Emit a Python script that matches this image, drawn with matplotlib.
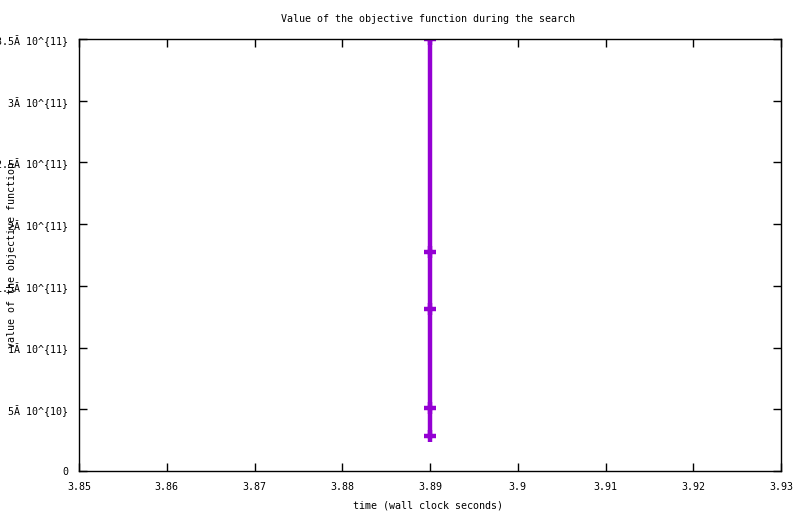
import matplotlib
matplotlib.use("Agg")
from matplotlib import pyplot as plt

# data
times = [3.89, 3.89, 3.89, 3.89, 3.89]
values = [3.5e11, 1.774e11, 1.3125e11, 0.51e11, 0.2836e11]

xticks = [3.85, 3.86, 3.87, 3.88, 3.89, 3.90, 3.91, 3.92, 3.93]
xticklabels = ["3.85", "3.86", "3.87", "3.88", "3.89", "3.9", "3.91", "3.92", "3.93"]
yticks = [0, 0.5e11, 1.0e11, 1.5e11, 2.0e11, 2.5e11, 3.0e11, 3.5e11]
yticklabels = ["0", "5Ă 10^{10}", "1Ă 10^{11}", "1.5Ă 10^{11}", "2Ă 10^{11}",
               "2.5Ă 10^{11}", "3Ă 10^{11}", "3.5Ă 10^{11}"]

plt.rcParams['font.family'] = ['DejaVu Sans Mono']
plt.rcParams['font.size'] = 7.2

fig = plt.figure(figsize=(8, 5.14), dpi=100)
ax = fig.add_axes([79/800, 43/514, 702/800, 432/514])

ax.plot(times, values, color='#9400D3', lw=3.2, marker='+', ms=9, mew=3.2,
        clip_on=True)

ax.set_xlim(3.85, 3.93)
ax.set_ylim(0, 3.5e11)
ax.set_xticks(xticks)
ax.set_xticklabels(xticklabels)
ax.set_yticks(yticks)
ax.set_yticklabels(yticklabels)
ax.tick_params(direction='in', length=6, width=1, top=True, right=True, pad=8)
for s in ax.spines.values():
    s.set_linewidth(1)

fig.text(428/800, 1 - 19/514, "Value of the objective function during the search",
         ha='center', va='center')
fig.text(428/800, 1 - 505/514, "time (wall clock seconds)", ha='center', va='center')
fig.text(12/800, 1 - 255/514, "value of the objective function", rotation=90,
         ha='center', va='center')

fig.savefig("out.png", dpi=100)
